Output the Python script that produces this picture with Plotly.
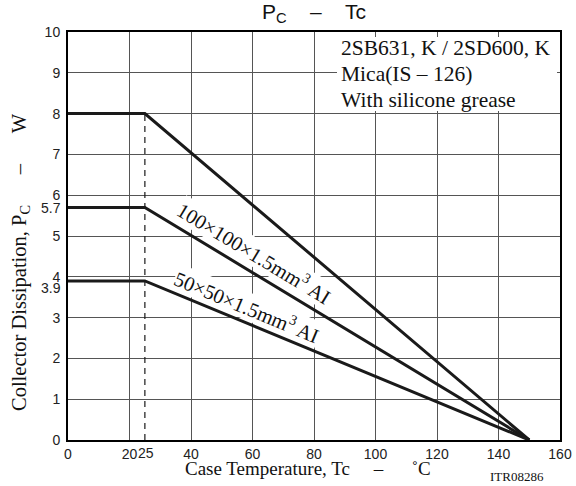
import plotly.graph_objects as go

# ---- data ----
temps = [0, 25, 150]                 # case temperature points (°C)
pc_infinite = [8, 8, 0]              # W
pc_100 = [5.7, 5.7, 0]               # W, 100x100x1.5mm3 Al
pc_50 = [3.9, 3.9, 0]                # W, 50x50x1.5mm3 Al
knee_temp = [25]
x_ticks = [0, 20, 40, 60, 80, 100, 120, 140, 160]
y_ticks = [0, 1, 2, 3, 4, 5, 6, 7, 8, 9, 10]
y_extra_ticks = [3.9, 5.7]
curve_labels = ["100×100×1.5mm<sup>3</sup> AI", "50×50×1.5mm<sup>3</sup> AI"]
info_lines = ["2SB631, K / 2SD600, K", "Mica(IS – 126)", "With silicone grease"]

SANS = "Liberation Sans, Arial, sans-serif"
SERIF = "Liberation Serif, Times New Roman, serif"
NB = "&nbsp;"

FW, FH = 576, 486
L, R, T, B = 68, 560, 32, 440
W_, H_ = R - L, B - T


def px(x):
    return (x - L) / W_


def py(y):
    return (B - y) / H_


fig = go.Figure()
for ys in (pc_infinite, pc_100, pc_50):
    fig.add_trace(go.Scatter(x=temps, y=ys, mode="lines",
                             line=dict(color="#1a1a1a", width=3),
                             showlegend=False, hoverinfo="skip"))

# dashed knee line
fig.add_shape(type="line", x0=knee_temp[0], x1=knee_temp[0], y0=0, y1=pc_infinite[1],
              xref="x", yref="y", line=dict(color="#1a1a1a", width=1.2, dash="6px,5px"),
              layer="above")

# white panel behind info text (hides grid lines)
fig.add_shape(type="rect", xref="paper", yref="paper",
              x0=px(337), x1=px(557), y0=py(111), y1=py(37),
              fillcolor="white", line=dict(width=0), layer="above")

tickfont = dict(family=SANS, size=14, color="#222")
fig.update_layout(
    width=FW, height=FH,
    margin=dict(l=L, r=FW - R, t=T, b=FH - B, autoexpand=False),
    paper_bgcolor="white", plot_bgcolor="white",
    xaxis=dict(range=[0, 160], tickvals=x_ticks, ticktext=[str(v) for v in x_ticks],
               showgrid=True, gridcolor="#555555", gridwidth=1,
               showline=True, linecolor="black", linewidth=2, mirror=True,
               ticks="", zeroline=False, automargin=False, tickfont=tickfont),
    yaxis=dict(range=[0, 10], tickvals=y_ticks,
               showgrid=True, gridcolor="#555555", gridwidth=1,
               showline=True, linecolor="black", linewidth=2, mirror=True,
               ticks="", zeroline=False, automargin=False, tickfont=tickfont,
               ticklabelstandoff=3),
)

ann = []
# extra y tick labels (3.9, 5.7) stacked just under the integer labels
extra_shift = {3.9: -7, 5.7: -1}
for v in y_extra_ticks:
    ann.append(dict(text=str(v), x=0, y=v, xref="paper", yref="y", showarrow=False,
                    xanchor="right", yanchor="middle", xshift=-5, yshift=extra_shift[v],
                    font=tickfont))
# extra x tick label (25) next to "20"
for v in knee_temp:
    ann.append(dict(text=str(v), x=v, y=py(453), xref="x", yref="paper", showarrow=False,
                    xanchor="center", yanchor="middle", xshift=1, font=tickfont))
# title
ann.append(dict(text="P<sub>C</sub>" + NB * 4 + "–" + NB * 4 + "Tc", x=px(314), y=py(13),
                xref="paper", yref="paper", showarrow=False, yanchor="middle",
                font=dict(family=SANS, size=21, color="#111")))
# axis titles
ann.append(dict(text="Case Temperature, Tc" + NB * 5 + "–" + NB * 6 + "˚C", x=px(308), y=py(468),
                xref="paper", yref="paper", showarrow=False, yanchor="middle",
                font=dict(family=SERIF, size=19, color="#111")))
ann.append(dict(text="Collector Dissipation, P<sub>C</sub>" + NB * 6 + "–" + NB * 6 + "W",
                x=px(20), y=py(262),
                xref="paper", yref="paper", showarrow=False, textangle=-90,
                xanchor="center", yanchor="middle",
                font=dict(family=SERIF, size=20.5, color="#111")))
ann.append(dict(text="ITR08286", x=px(546), y=py(477),
                xref="paper", yref="paper", showarrow=False, yanchor="middle",
                font=dict(family=SERIF, size=13, color="#111")))
# info text, one line each
info_y = [48, 74, 100]
for line, yy in zip(info_lines, info_y):
    ann.append(dict(text=line, x=px(339), y=py(yy), xref="paper", yref="paper",
                    showarrow=False, xanchor="left", yanchor="middle", align="left",
                    font=dict(family=SERIF, size=21.5, color="#111")))
# curve labels
ann.append(dict(text=curve_labels[0], x=60.5, y=4.6, xref="x", yref="y", showarrow=False,
                textangle=31.2, bgcolor="white", borderpad=0,
                font=dict(family=SERIF, size=20.5, color="#111")))
ann.append(dict(text=curve_labels[1], x=58.3, y=3.29, xref="x", yref="y", showarrow=False,
                textangle=22.6, bgcolor="white", borderpad=0,
                font=dict(family=SERIF, size=20.5, color="#111")))
fig.update_layout(annotations=ann)

fig.write_html("out.html", config={"displayModeBar": False},
               post_script="document.body.style.margin='0';"
                           "document.documentElement.style.overflow='hidden';")
